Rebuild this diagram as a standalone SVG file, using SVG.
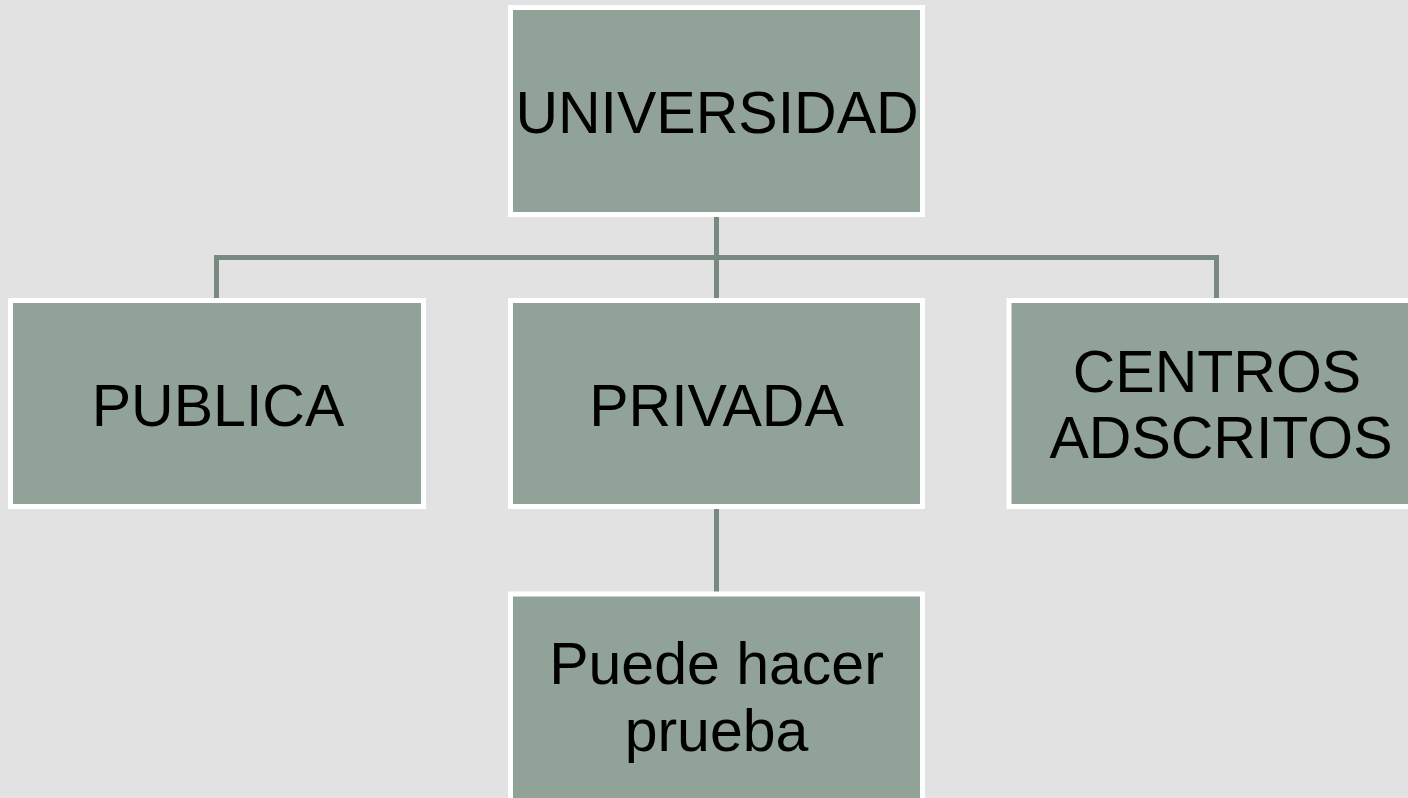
<svg xmlns="http://www.w3.org/2000/svg" width="1408" height="798" viewBox="0 0 1408 798">
<style>
.box{fill:#91a398;stroke:#ffffff;stroke-width:5}
.lbl{font-family:"Liberation Sans",Arial,sans-serif;font-size:59px;fill:#000;text-anchor:middle}
.conn{stroke:#788a80;stroke-width:5;fill:none}
</style>
<rect x="0" y="0" width="1408" height="798" fill="#e2e2e2"/>
<g id="connectors">
<path class="conn" d="M716.5 216 V257.5 M216.5 298 V257.5 H1216.5 V298 M716.5 257.5 V298 M716.5 509 V592"/>
</g>
<g id="universidad">
<rect class="box" x="510.5" y="7.5" width="412" height="207"/>
<text class="lbl" x="717" y="133">UNIVERSIDAD</text>
</g>
<g id="publica">
<rect class="box" x="10.5" y="300.5" width="413" height="206"/>
<text class="lbl" x="218" y="426">PUBLICA</text>
</g>
<g id="privada">
<rect class="box" x="510.5" y="300.5" width="412" height="206"/>
<text class="lbl" x="716.5" y="426">PRIVADA</text>
</g>
<g id="centros">
<rect class="box" x="1009" y="300.5" width="413" height="206"/>
<text class="lbl" x="1217" y="392">CENTROS</text>
<text class="lbl" x="1221" y="458">ADSCRITOS</text>
</g>
<g id="puede">
<rect class="box" x="510.5" y="594" width="412" height="210"/>
<text class="lbl" x="716.5" y="684">Puede hacer</text>
<text class="lbl" x="716.5" y="751">prueba</text>
</g>
</svg>
